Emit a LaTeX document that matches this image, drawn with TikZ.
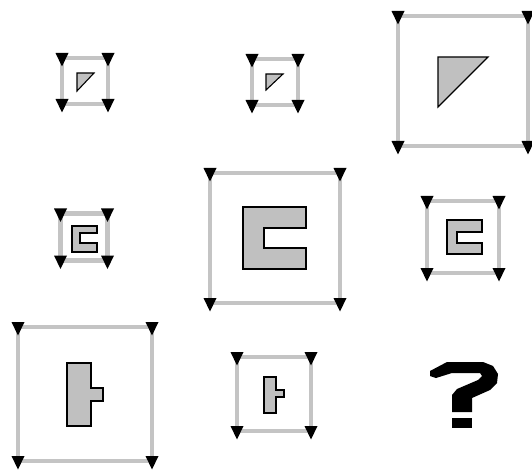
\documentclass[tikz,border=0pt]{standalone}
\begin{document}
\begin{tikzpicture}[x=1pt,y=-1pt,
  frameline/.style={draw=framegray,line width=4.5pt},
  figshape/.style={draw=black,fill=figgray,line width=1.1pt,line join=miter},
  marker/.style={fill=black}]
\definecolor{framegray}{RGB}{196,196,196}
\definecolor{figgray}{RGB}{192,192,192}
\useasboundingbox (0,0) rectangle (532,470);
\fill[white] (0,0) rectangle (532,470);
\newcommand\pframe[3]{%
  \draw[frameline] (#1-#3,#2-#3) rectangle (#1+#3,#2+#3);
  \foreach \dx/\dy in {-1/-1,1/-1,-1/1,1/1}{
    \fill[marker] (#1+\dx*#3-6.5,#2+\dy*#3-5) -- (#1+\dx*#3+6.5,#2+\dy*#3-5) -- (#1+\dx*#3,#2+\dy*#3+8.5) -- cycle;}
}
\newcommand\cshape[7]{%
  \draw[figshape] (#1,#2) -- (#1+#3,#2) -- (#1+#3,#2+#6) -- (#1+#5,#2+#6) -- (#1+#5,#2+#6+#7) -- (#1+#3,#2+#6+#7) -- (#1+#3,#2+#4) -- (#1,#2+#4) -- cycle;
}
% row 1
\pframe{85}{81}{23}
\draw[figshape] (77,73) -- (94,73) -- (77,91) -- cycle;
\pframe{275}{82}{23}
\draw[figshape] (266,74) -- (283,74) -- (266,90) -- cycle;
\pframe{463}{81}{65}
\draw[figshape] (438,57) -- (488,57) -- (438,107) -- cycle;
% row 2
\pframe{84}{237}{23.5}
\cshape{72}{226}{25}{26}{8}{7}{10}
\pframe{275}{238}{65}
\cshape{243}{207}{63}{62}{21}{21}{20}
\pframe{463}{237}{36}
\cshape{447}{220}{35}{34}{10}{12}{11}
% row 3
\pframe{85}{394}{67}
\draw[figshape] (67,363) -- (91,363) -- (91,388) -- (103,388) -- (103,401) -- (91,401) -- (91,426) -- (67,426) -- cycle;
\pframe{274}{394}{37}
\draw[figshape] (264,377) -- (276,377) -- (276,390) -- (284,390) -- (284,397) -- (276,397) -- (276,413) -- (264,413) -- cycle;
% question mark
\fill[black] (430,371) -- (447,362) -- (483,362) -- (493,366) -- (498,374) -- (497,383) -- (490,390) -- (472,398) -- (472,412) -- (452,412) -- (452,395) -- (457,389) -- (478,380) -- (482,376) -- (480,373) -- (452,373) -- (436,378) -- (430,376) -- cycle;
\fill[black] (452,418) rectangle (472,428);
\end{tikzpicture}
\end{document}
